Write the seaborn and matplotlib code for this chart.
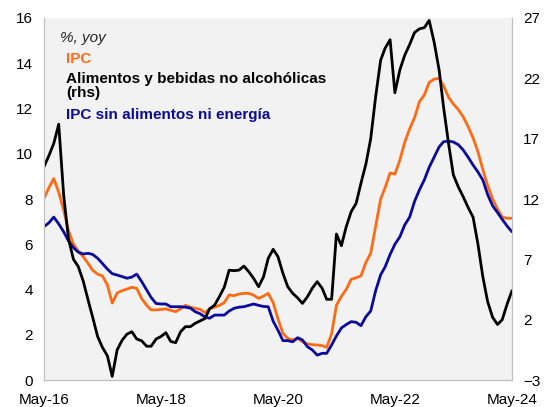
import numpy as np
import pandas as pd
import matplotlib
matplotlib.use("Agg")
import matplotlib.pyplot as plt
import matplotlib.dates as mdates
import seaborn as sns

# monthly data, May-16 .. May-24
fechas = pd.date_range("2016-05-01", periods=97, freq="MS")

ipc = [8.03, 8.5, 8.9, 8.3, 7.5, 6.6, 6.0, 5.7, 5.45, 5.15,
       4.85, 4.68, 4.6, 4.2, 3.4, 3.85, 3.95, 4.02, 4.1, 4.05,
       3.6, 3.3, 3.1, 3.1, 3.12, 3.14, 3.08, 3.02, 3.15, 3.3,
       3.22, 3.17, 3.12, 2.98, 3.15, 3.22, 3.3, 3.42, 3.76, 3.73,
       3.8, 3.83, 3.83, 3.75, 3.61, 3.71, 3.83, 3.42, 2.7, 2.06,
       1.84, 1.77, 1.84, 1.69, 1.6, 1.56, 1.55, 1.52, 1.44, 2.05,
       3.3, 3.7, 4.0, 4.45, 4.52, 4.6, 5.2, 5.6, 6.8, 8.0,
       8.5, 9.15, 9.1, 9.72, 10.5, 11.1, 11.6, 12.3, 12.6, 13.15,
       13.3, 13.33, 13.0, 12.5, 12.2, 11.95, 11.64, 11.2, 10.7, 10.1,
       9.3, 8.6, 8.0, 7.55, 7.2, 7.15, 7.15]

subyacente = [6.78, 6.95, 7.2, 6.9, 6.55, 6.15, 5.85, 5.65, 5.57, 5.6,
              5.55, 5.38, 5.15, 4.9, 4.7, 4.64, 4.57, 4.5, 4.55, 4.68,
              4.35, 3.98, 3.65, 3.38, 3.36, 3.36, 3.24, 3.24, 3.24, 3.22,
              3.18, 3.02, 2.93, 2.78, 2.73, 2.87, 2.87, 2.87, 3.05, 3.17,
              3.22, 3.24, 3.3, 3.36, 3.3, 3.25, 3.24, 2.6, 2.2, 1.74,
              1.74, 1.69, 1.87, 1.77, 1.47, 1.33, 1.1, 1.18, 1.18, 1.55,
              1.95, 2.3, 2.45, 2.58, 2.55, 2.4, 2.8, 3.05, 3.95, 4.65,
              5.0, 5.55, 6.0, 6.33, 6.85, 7.2, 7.9, 8.4, 8.85, 9.4,
              9.85, 10.3, 10.53, 10.56, 10.52, 10.4, 10.17, 9.85, 9.5, 9.2,
              8.84, 8.2, 7.7, 7.4, 7.1, 6.8, 6.55]

alimentos = [14.67, 15.6, 16.6, 18.2, 12.3, 8.7, 7.0, 6.4, 5.2, 3.6,
             2.2, 0.6, -0.3, -1.0, -2.7, -0.5, 0.3, 0.8, 1.0, 0.4,
             0.25, -0.2, -0.2, 0.4, 0.6, 0.92, 0.2, 0.09, 1.0, 1.42,
             1.42, 1.7, 1.9, 2.1, 2.9, 3.2, 3.9, 4.7, 6.1, 6.06,
             6.11, 6.44, 5.97, 5.42, 4.73, 5.56, 7.08, 7.83, 7.22, 5.84,
             4.73, 4.18, 3.8, 3.35, 3.9, 4.6, 5.15, 4.6, 3.69, 3.69,
             9.1, 8.13, 9.7, 10.95, 11.64, 13.3, 14.9, 17.0, 20.5, 23.5,
             24.5, 25.2, 20.8, 22.7, 23.9, 24.8, 25.8, 26.1, 26.2, 26.8,
             25.0, 22.7, 19.6, 16.6, 14.0, 13.0, 12.2, 11.3, 10.5, 8.3,
             5.56, 3.5, 2.2, 1.6, 2.0, 3.3, 4.4]

df = pd.DataFrame({"fecha": fechas, "ipc": ipc, "sub": subyacente, "alim": alimentos})

naranja = "#FF6A13"
azul = "#0A0AA0"

sns.set_style("white")
plt.rcParams["font.family"] = ["Liberation Sans", "DejaVu Sans"]

fig = plt.figure(figsize=(5.45, 4.07), dpi=100)
ax = fig.add_axes([0.0807, 0.0663, 0.8587, 0.8895])
ax.set_facecolor("#F2F2F2")
ax2 = ax.twinx()

sns.lineplot(data=df, x="fecha", y="ipc", ax=ax, color=naranja, linewidth=2)
sns.lineplot(data=df, x="fecha", y="sub", ax=ax, color=azul, linewidth=2)
sns.lineplot(data=df, x="fecha", y="alim", ax=ax2, color="black", linewidth=2)

ax.set_ylim(0, 16)
ax.set_yticks(np.arange(0, 17, 2))
ax2.set_ylim(-3, 27)
ax2.set_yticks(np.arange(-3, 28, 5))
ax.set_xlim(fechas[0], fechas[-1])
ax.xaxis.set_major_locator(mdates.YearLocator(base=2, month=5, day=1))
ax.xaxis.set_major_formatter(mdates.DateFormatter("%b-%y"))

for a in (ax, ax2):
    a.set_xlabel("")
    a.set_ylabel("")
    a.tick_params(length=0, labelsize=11, colors="black")
    for s in a.spines.values():
        s.set_color("#BFBFBF")
    a.spines["top"].set_visible(False)
ax.tick_params(axis="y", pad=8)
ax2.tick_params(axis="y", pad=8)
ax.tick_params(axis="x", pad=9)

ax.text(0.035, 0.965, "%, yoy", transform=ax.transAxes, fontsize=11,
        style="italic", va="top")
ax.text(0.048, 0.905, "IPC", transform=ax.transAxes, fontsize=11,
        fontweight="bold", color=naranja, va="top")
ax.text(0.048, 0.852, "Alimentos y bebidas no alcohólicas\n(rhs)",
        transform=ax.transAxes, fontsize=11, fontweight="bold",
        color="black", va="top", linespacing=1.0)
ax.text(0.048, 0.752, "IPC sin alimentos ni energía", transform=ax.transAxes,
        fontsize=11, fontweight="bold", color=azul, va="top")

fig.savefig("out.png", dpi=100)
